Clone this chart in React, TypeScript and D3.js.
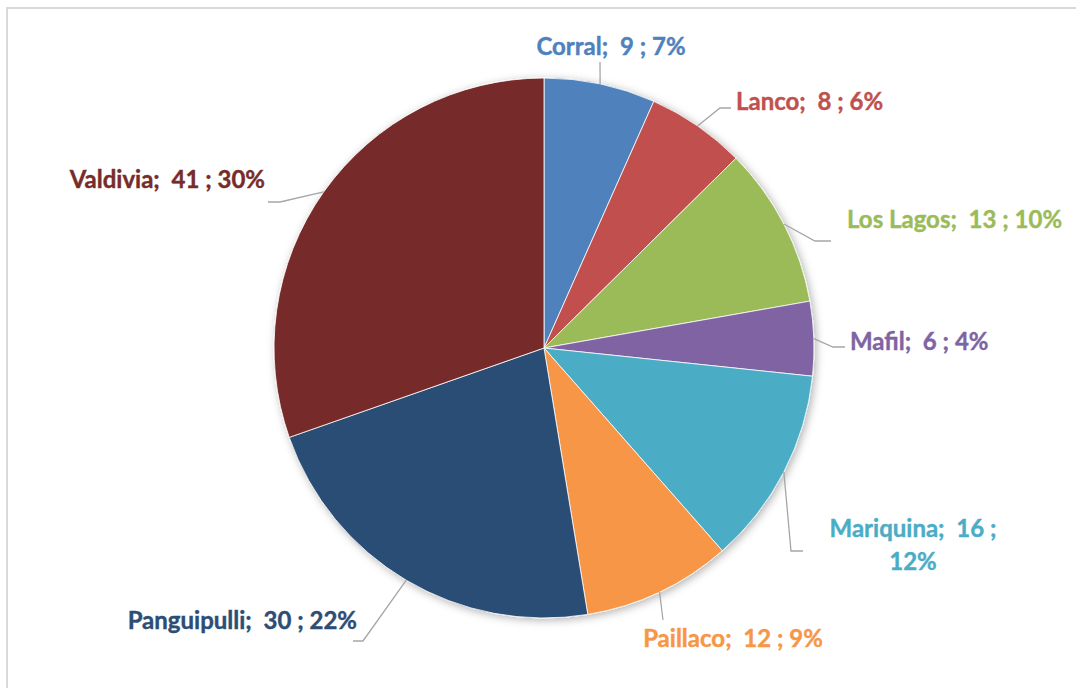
import { useRef, useEffect } from 'react';
import * as d3 from 'd3';

const categories = ['Corral', 'Lanco', 'Los Lagos', 'Mafil', 'Mariquina', 'Paillaco', 'Panguipulli', 'Valdivia'];
const values = [9, 8, 13, 6, 16, 12, 30, 41];
const percents = ['7%', '6%', '10%', '4%', '12%', '9%', '22%', '30%'];
const colors = ['#4f81bd', '#c0504d', '#9bbb59', '#8064a2', '#4bacc6', '#f79646', '#2c4d75', '#772c2a'];

// label layout: bend + end of leader, text anchor point, text lines
const labelLayout = [
  { bend: [600, 62], end: [600, 62], tx: 611, ty: 45, anchor: 'middle', lines: 1 },
  { bend: [720, 108], end: [731, 108], tx: 736, ty: 100, anchor: 'start', lines: 1 },
  { bend: [815, 241], end: [831, 241], tx: 847, ty: 218, anchor: 'start', lines: 1 },
  { bend: [833, 347], end: [845, 347], tx: 850, ty: 340, anchor: 'start', lines: 1 },
  { bend: [791, 551], end: [803, 551], tx: 913, ty: 527, anchor: 'middle', lines: 2 },
  { bend: [663, 620], end: [663, 620], tx: 733, ty: 637, anchor: 'middle', lines: 1 },
  { bend: [363, 641], end: [353, 641], tx: 357, ty: 619, anchor: 'end', lines: 1 },
  { bend: [280, 202], end: [268, 202], tx: 265, ty: 178, anchor: 'end', lines: 1 },
];

export default function App() {
  const svgRef = useRef<SVGSVGElement>(null);

  useEffect(() => {
    if (!svgRef.current) return;
    const svg = d3.select(svgRef.current);
    svg.selectAll('*').remove();

    const cx = 544;
    const cy = 348;
    const r = 270;

    const defs = svg.append('defs');
    const f = defs.append('filter').attr('id', 'shadow')
      .attr('x', '-20%').attr('y', '-20%').attr('width', '140%').attr('height', '140%');
    f.append('feDropShadow')
      .attr('dx', 2).attr('dy', 2).attr('stdDeviation', 4)
      .attr('flood-color', '#000').attr('flood-opacity', 0.3);

    // chart frame
    svg.append('rect')
      .attr('x', 7).attr('y', 8).attr('width', 1085).attr('height', 700)
      .attr('fill', 'none').attr('stroke', '#d9d9d9').attr('stroke-width', 2);

    const data = categories.map((c, i) => ({ name: c, value: values[i], pct: percents[i], color: colors[i] }));
    const pie = d3.pie<typeof data[0]>().value((d) => d.value).sort(null);
    const arcs = pie(data);
    const arc = d3.arc<d3.PieArcDatum<typeof data[0]>>().innerRadius(0).outerRadius(r);
    const edge = d3.arc<d3.PieArcDatum<typeof data[0]>>().innerRadius(r).outerRadius(r);

    const g = svg.append('g').attr('transform', `translate(${cx},${cy})`);

    g.append('g').attr('filter', 'url(#shadow)')
      .selectAll('path')
      .data(arcs)
      .join('path')
      .attr('d', arc)
      .attr('fill', (d) => d.data.color)
      .attr('stroke', '#fff')
      .attr('stroke-width', 0.8);

    // leader lines
    arcs.forEach((a, i) => {
      const [ex, ey] = edge.centroid(a);
      const L = labelLayout[i];
      svg.append('polyline')
        .attr('points', `${cx + ex},${cy + ey} ${L.bend[0]},${L.bend[1]} ${L.end[0]},${L.end[1]}`)
        .attr('fill', 'none')
        .attr('stroke', '#a6a6a6')
        .attr('stroke-width', 1.3);
    });

    // labels
    arcs.forEach((a, i) => {
      const L = labelLayout[i];
      const t = svg.append('text')
        .attr('x', L.tx).attr('y', L.ty)
        .attr('text-anchor', L.anchor)
        .attr('dominant-baseline', 'central')
        .attr('font-family', 'Lato, "Open Sans", sans-serif')
        .attr('font-weight', 700)
        .attr('font-size', 24)
        .attr('fill', a.data.color)
        .attr('stroke', a.data.color)
        .attr('stroke-width', 0.4)
        .attr('xml:space', 'preserve');
      if (L.lines === 2) {
        t.append('tspan').attr('x', L.tx).attr('dy', 0).text(`${a.data.name};  ${a.data.value} ;`);
        t.append('tspan').attr('x', L.tx).attr('dy', 33).text(a.data.pct);
      } else {
        t.text(`${a.data.name};  ${a.data.value} ; ${a.data.pct}`);
      }
    });
  }, []);

  return (
    <svg
      ref={svgRef}
      width={1076}
      height={688}
      style={{ position: 'absolute', left: 0, top: 0, background: '#fff' }}
    />
  );
}
